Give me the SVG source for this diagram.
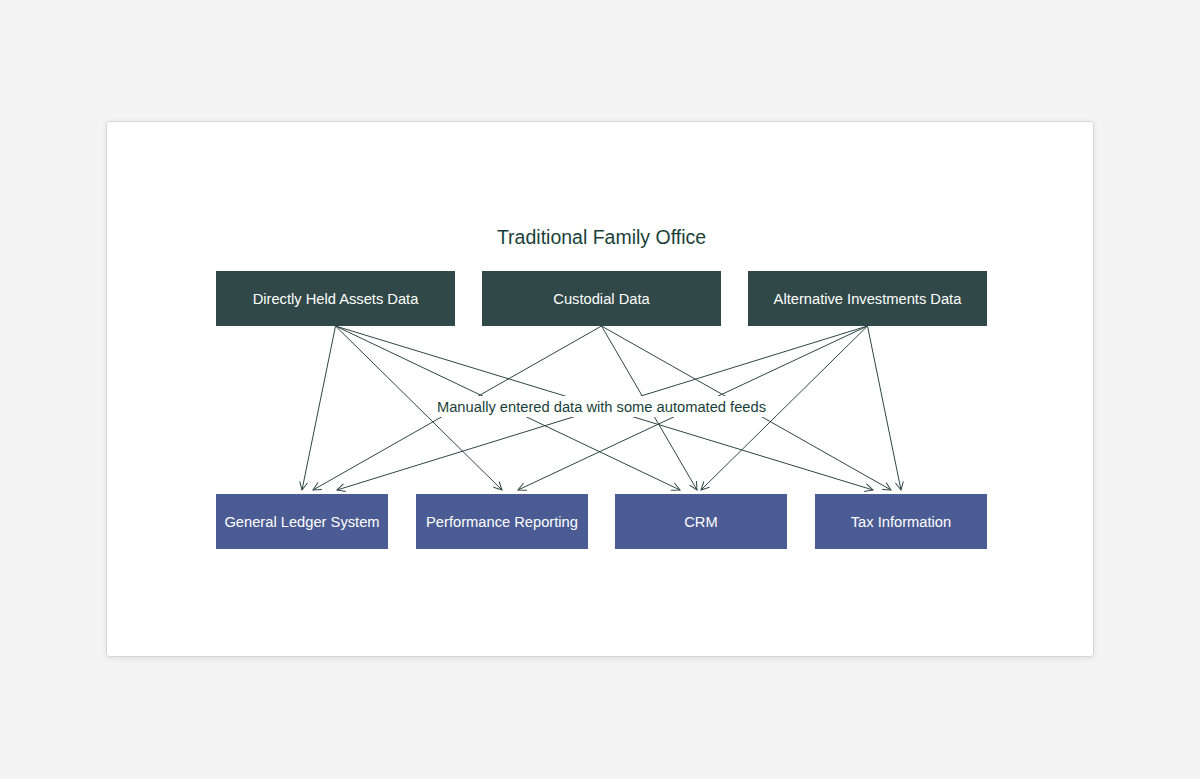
<svg xmlns="http://www.w3.org/2000/svg" width="1200" height="779" viewBox="0 0 1200 779">
  <defs>
    <filter id="shadow" x="-5%" y="-5%" width="110%" height="115%">
      <feDropShadow dx="0" dy="2" stdDeviation="3" flood-color="#000" flood-opacity="0.08"/>
    </filter>
    <marker id="arrow" viewBox="0 0 10 10" refX="9" refY="5" markerWidth="10" markerHeight="10" markerUnits="userSpaceOnUse" orient="auto">
      <path d="M1,1 L9,5 L1,9" fill="none" stroke="#2f4645" stroke-width="1"/>
    </marker>
    <style>
      .src rect { fill: #304847; }
      .dst rect { fill: #4b5b93; }
      .lbl { font-family: "Liberation Sans", Arial, sans-serif; font-size: 14.7px; fill: #ffffff; text-anchor: middle; dominant-baseline: central; }
      .title { font-family: "Liberation Sans", Arial, sans-serif; font-size: 19.5px; fill: #1a3f3a; text-anchor: middle; dominant-baseline: central; }
      .edge { fill: none; stroke: #2f4645; stroke-width: 1; marker-end: url(#arrow); }
      .elbl { font-family: "Liberation Sans", Arial, sans-serif; font-size: 14.7px; fill: #1a3f3a; text-anchor: middle; dominant-baseline: central; }
    </style>
  </defs>
  <rect width="1200" height="779" fill="#f4f4f4"/>
  <rect x="106.5" y="121.5" width="987" height="535" rx="3" fill="#ffffff" stroke="#d4d4d4" stroke-width="1" filter="url(#shadow)"/>
  <text class="title" x="601.5" y="237">Traditional Family Office</text>

  <g id="connectors">
    <line class="edge" x1="335.5" y1="326" x2="302" y2="490"/>
    <line class="edge" x1="335.5" y1="326" x2="502" y2="490"/>
    <line class="edge" x1="335.5" y1="326" x2="680" y2="490"/>
    <line class="edge" x1="335.5" y1="326" x2="873" y2="490"/>
    <line class="edge" x1="601.5" y1="326" x2="313" y2="490"/>
    <line class="edge" x1="601.5" y1="326" x2="697" y2="490"/>
    <line class="edge" x1="601.5" y1="326" x2="891" y2="490"/>
    <line class="edge" x1="867.5" y1="326" x2="337" y2="490"/>
    <line class="edge" x1="867.5" y1="326" x2="518" y2="490"/>
    <line class="edge" x1="867.5" y1="326" x2="701" y2="490"/>
    <line class="edge" x1="867.5" y1="326" x2="901" y2="490"/>
    <g id="edge-label">
      <rect x="433" y="396" width="337" height="21" fill="#ffffff"/>
      <text class="elbl" x="601.5" y="407">Manually entered data with some automated feeds</text>
    </g>
  </g>

  <g id="directly-held" class="src">
    <rect x="216" y="271" width="239" height="55"/>
    <text class="lbl" x="335.5" y="298.5">Directly Held Assets Data</text>
  </g>
  <g id="custodial" class="src">
    <rect x="482" y="271" width="239" height="55"/>
    <text class="lbl" x="601.5" y="298.5">Custodial Data</text>
  </g>
  <g id="alternative" class="src">
    <rect x="748" y="271" width="239" height="55"/>
    <text class="lbl" x="867.5" y="298.5">Alternative Investments Data</text>
  </g>

  <g id="general-ledger" class="dst">
    <rect x="216" y="494" width="172" height="55"/>
    <text class="lbl" x="302" y="522">General Ledger System</text>
  </g>
  <g id="performance" class="dst">
    <rect x="416" y="494" width="172" height="55"/>
    <text class="lbl" x="502" y="522">Performance Reporting</text>
  </g>
  <g id="crm" class="dst">
    <rect x="615" y="494" width="172" height="55"/>
    <text class="lbl" x="701" y="522">CRM</text>
  </g>
  <g id="tax" class="dst">
    <rect x="815" y="494" width="172" height="55"/>
    <text class="lbl" x="901" y="522">Tax Information</text>
  </g>
</svg>
